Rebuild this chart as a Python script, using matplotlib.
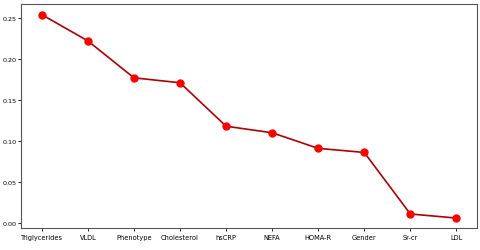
import numpy as np
import matplotlib
matplotlib.use('Agg')
import matplotlib.pyplot as plt

plt.rcParams['font.family'] = ['Liberation Sans Narrow', 'DejaVu Sans']

# Feature names and their importance scores
features = ['Triglycerides', 'VLDL', 'Phenotype', 'Cholesterol', 'hsCRP',
            'NEFA', 'HOMA-R', 'Gender', 'Sr-cr', 'LDL']
scores = [0.254, 0.222, 0.177, 0.171, 0.118, 0.110, 0.091, 0.086, 0.011, 0.006]

fig, ax = plt.subplots(figsize=(4.8, 2.51), dpi=100)
fig.subplots_adjust(left=0.044, right=0.994, top=0.98, bottom=0.088)

ax.plot(features, scores, color='#b00000', linewidth=1.2, marker='o',
        markersize=5, markerfacecolor='red', markeredgecolor='red')

ax.set_ylim(-0.006, 0.267)
ax.set_yticks([0.00, 0.05, 0.10, 0.15, 0.20, 0.25])
ax.set_yticklabels(['0.00', '0.05', '0.10', '0.15', '0.20', '0.25'])
ax.tick_params(axis='x', labelsize=4.8, length=2, width=0.6, pad=2.5)
ax.tick_params(axis='y', labelsize=4.6, length=2, width=0.6, pad=1.5)
for s in ax.spines.values():
    s.set_color('#555555')
    s.set_linewidth(0.8)

fig.savefig('out.png', dpi=100)
